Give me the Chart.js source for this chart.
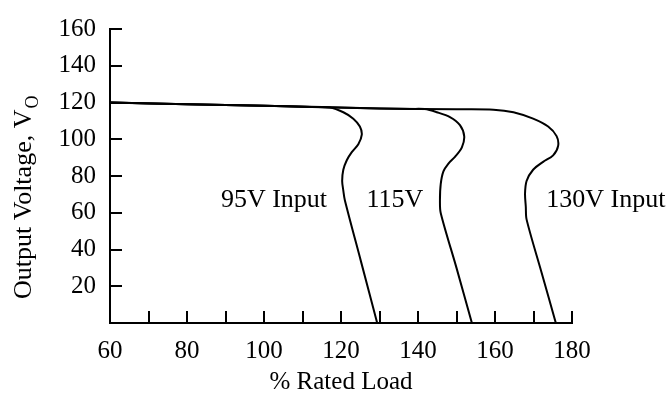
<!DOCTYPE html>
<html>
<head>
<meta charset="utf-8">
<title>Output Voltage vs Rated Load</title>
<script src="https://cdn.jsdelivr.net/npm/chart.js@4/dist/chart.umd.min.js"></script>
<style>
  html, body { margin: 0; padding: 0; background: #fff; }
  #wrap { width: 669px; height: 400px; }
</style>
</head>
<body>
<div id="wrap"><canvas id="chart" width="669" height="400"></canvas></div>
<script>
// Curve data (x = % rated load, y = output voltage)
const load95 = [60, 80, 100, 112, 117.1, 120.6, 123.2, 124.9, 125.4, 124.5, 122.8, 121.5, 120.6, 120.3, 120.6, 121.0, 125.2, 129.4];
const volt95 = [120, 119, 118.2, 117.6, 117.3, 114.7, 111.2, 106.9, 102.5, 97.3, 93.0, 88.6, 83.4, 77.3, 72.1, 66.8, 33.4, 0];

const load115 = [60, 100, 130, 138, 141.8, 144.9, 148.3, 150.9, 152.0, 151.4, 149.6, 147.9, 146.6, 145.9, 145.7, 145.9, 150.0, 154];
const volt115 = [120, 118.2, 116.8, 116.5, 116.4, 114.7, 112.1, 107.7, 101.7, 95.6, 90.4, 86.8, 82.5, 75.6, 66.8, 59.9, 30, 0];

const load130 = [60, 100, 130, 150, 159.6, 164.8, 169.9, 173.8, 176.0, 176.4, 175.1, 172.5, 169.9, 168.2, 167.8, 168.0, 168.2, 172.0, 175.8];
const volt130 = [120, 118.2, 116.8, 116.3, 116.1, 114.7, 111.2, 106.9, 101.7, 96.4, 91.2, 87.7, 83.4, 77.3, 70.3, 63.3, 56.4, 28.2, 0];

// Tick values
const xTickLabels = [60, 80, 100, 120, 140, 160, 180];
const xTickMarks = [70, 80, 90, 100, 110, 120, 130, 140, 150, 160, 170, 180];
const yTickLabels = [20, 40, 60, 80, 100, 120, 140, 160];

// Curve names and where they are written (data units)
const curveNames = ['95V Input', '115V', '130V Input'];
const nameAt = [[102.6, 66.8], [134, 66.8], [188.8, 66.8]];

const serif = '"Liberation Serif", "Times New Roman", serif';

function toPoints(xs, ys) {
    return xs.map((x, i) => ({ x: x, y: ys[i] }));
}

function curve(label, xs, ys) {
    return {
        label: label,
        data: toPoints(xs, ys),
        showLine: true,
        borderColor: '#000',
        borderWidth: 2,
        pointRadius: 0,
        tension: 0.3,
        fill: false
    };
}

// Inward tick marks, curve names and the y title with its subscript
const decorations = {
    id: 'decorations',
    afterDraw(chart) {
        const ctx = chart.ctx;
        const xs = chart.scales.x;
        const ys = chart.scales.y;
        const area = chart.chartArea;

        ctx.save();
        ctx.strokeStyle = '#000';
        ctx.lineWidth = 2;
        ctx.beginPath();
        yTickLabels.forEach(v => {
            const py = Math.round(ys.getPixelForValue(v));
            ctx.moveTo(area.left, py);
            ctx.lineTo(area.left + 12, py);
        });
        xTickMarks.forEach(v => {
            const px = Math.round(xs.getPixelForValue(v));
            ctx.moveTo(px, area.bottom);
            ctx.lineTo(px, area.bottom - 12);
        });
        ctx.stroke();

        ctx.fillStyle = '#000';
        ctx.font = '26px ' + serif;
        ctx.textAlign = 'center';
        ctx.textBaseline = 'middle';
        curveNames.forEach((name, i) => {
            ctx.fillText(name, xs.getPixelForValue(nameAt[i][0]), ys.getPixelForValue(nameAt[i][1]));
        });

        // y title, rotated, reading bottom to top
        ctx.translate(31, 299);
        ctx.rotate(-Math.PI / 2);
        ctx.textAlign = 'left';
        ctx.textBaseline = 'alphabetic';
        ctx.font = '26px ' + serif;
        const main = 'Output Voltage, V';
        ctx.fillText(main, 0, 0);
        const w = ctx.measureText(main).width;
        ctx.font = '18px ' + serif;
        ctx.fillText('O', w + 1, 7);
        ctx.restore();
    }
};

document.addEventListener('DOMContentLoaded', () => {
    const ctx = document.getElementById('chart').getContext('2d');
    new Chart(ctx, {
        type: 'scatter',
        data: {
            datasets: [
                curve('95V Input', load95, volt95),
                curve('115V', load115, volt115),
                curve('130V Input', load130, volt130)
            ]
        },
        options: {
            responsive: false,
            animation: false,
            layout: { padding: { left: 0, right: 97, top: 16, bottom: 0 } },
            plugins: {
                legend: { display: false },
                tooltip: { enabled: false }
            },
            scales: {
                x: {
                    type: 'linear',
                    min: 60,
                    max: 180,
                    grid: { display: false, drawTicks: false },
                    border: { display: true, color: '#000', width: 2 },
                    afterBuildTicks: scale => { scale.ticks = xTickLabels.map(v => ({ value: v })); },
                    afterFit: scale => { scale.height = 77; },
                    ticks: {
                        color: '#000',
                        padding: 13,
                        maxRotation: 0,
                        font: { family: serif, size: 25 }
                    },
                    title: {
                        display: true,
                        text: '% Rated Load',
                        color: '#000',
                        padding: { top: 0, bottom: 3 },
                        font: { family: serif, size: 25 }
                    }
                },
                y: {
                    type: 'linear',
                    min: 0,
                    max: 160,
                    grid: { display: false, drawTicks: false },
                    border: { display: true, color: '#000', width: 2 },
                    afterBuildTicks: scale => { scale.ticks = yTickLabels.map(v => ({ value: v })); },
                    afterFit: scale => { scale.width = 110; },
                    ticks: {
                        color: '#000',
                        padding: 14,
                        font: { family: serif, size: 25 }
                    }
                }
            }
        },
        plugins: [decorations]
    });
});
</script>
</body>
</html>
